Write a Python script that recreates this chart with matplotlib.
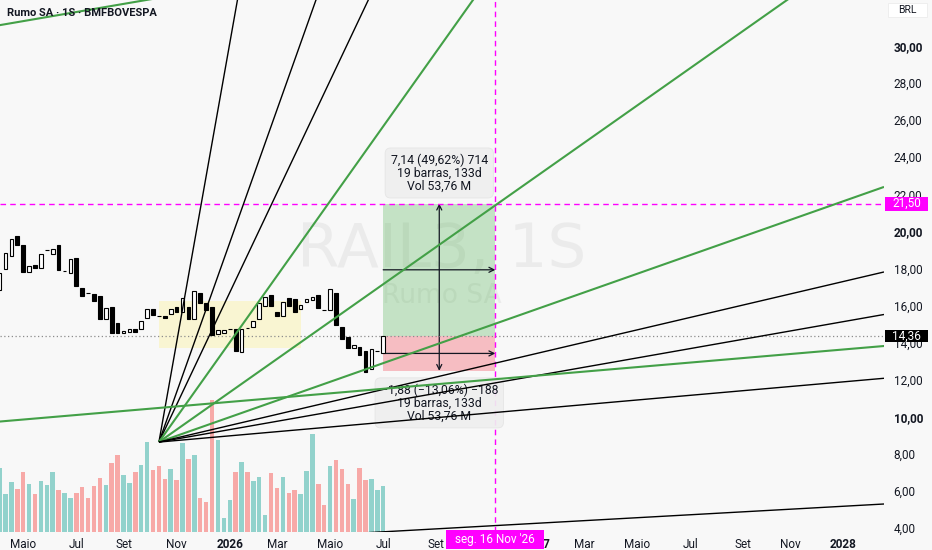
import numpy as np
import pandas as pd
import matplotlib
matplotlib.use('Agg')
import matplotlib.pyplot as plt
import matplotlib.dates as mdates
from matplotlib.patches import Rectangle
from matplotlib.transforms import blended_transform_factory

plt.rcParams['font.family'] = ['Roboto', 'DejaVu Sans']

# weekly bars (bodies only), first bar week of 2025-04-07
first_week = '2025-04-07'
opens = [16.84, 17.97, 18.67, 19.75, 19.27, 17.81, 18.19, 18.03, 18.98, 18.78,
         19.27, 17.84, 17.76, 18.57, 16.95, 16.70, 16.62, 16.52, 15.27, 15.92,
         15.06, 14.52, 14.58, 14.74, 14.74, 15.33, 15.81, 15.46, 15.44, 15.54,
         15.92, 15.65, 15.92, 15.30, 16.68, 16.14, 15.92, 14.47, 14.52, 14.72,
         14.74, 13.50, 14.81, 14.84, 15.27, 15.98, 16.57, 15.65, 15.44, 16.41,
         16.35, 15.81, 16.19, 16.30, 16.57, 15.78, 15.76, 16.68, 14.84, 14.30,
         13.71, 13.76, 13.55, 12.58, 13.53, 13.44]
closes = [17.76, 18.84, 19.59, 19.27, 17.81, 18.13, 18.03, 18.78, 19.02, 19.05,
          17.92, 17.88, 18.50, 17.05, 16.52, 16.66, 16.25, 15.27, 15.87, 14.52,
          14.52, 14.65, 14.74, 14.58, 15.17, 15.81, 15.49, 15.42, 15.33, 15.81,
          15.65, 16.41, 15.27, 16.76, 16.14, 15.76, 14.41, 14.68, 14.68, 14.76,
          13.55, 14.74, 14.77, 15.17, 16.14, 16.46, 15.98, 15.44, 16.19, 15.98,
          15.65, 16.03, 16.35, 16.46, 15.87, 15.74, 16.89, 14.95, 14.20, 13.71,
          13.87, 13.33, 12.42, 13.66, 13.57, 14.36]
volumes = [38.4, 22.8, 30.0, 25.8, 36.0, 28.8, 22.8, 30.6, 28.2, 36.0,
           25.2, 23.4, 20.4, 23.4, 27.0, 20.4, 27.6, 32.4, 28.2, 41.4,
           46.2, 34.2, 29.4, 36.0, 40.2, 54.0, 37.2, 39.6, 31.8, 37.8,
           31.2, 53.4, 43.8, 46.2, 20.4, 18.0, 79.2, 55.2, 8.4, 19.2,
           36.0, 42.0, 36.0, 30.6, 33.0, 10.2, 35.4, 26.4, 33.0, 23.4,
           25.2, 22.8, 36.6, 58.8, 28.8, 16.2, 39.6, 43.2, 37.8, 28.8,
           19.8, 38.4, 31.2, 31.8, 25.2, 27.6]

last_price = 14.36
target_price = 21.50
low_price = 12.48
range_end = '2026-11-16'
range_date_label = "seg. 16 Nov '26"
up_label = ['7,14 (49,62%) 714', '19 barras, 133d', 'Vol 53,76 M']
down_label = ['−1,88 (−13,06%) −188', '19 barras, 133d', 'Vol 53,76 M']

# consolidation box
box_dates = ['2025-10-13', '2026-03-30']
box_prices = [13.73, 16.25]

# gann fan
fan_origin = '2025-10-13'
fan_price = 8.64
fan_unit = 0.224  # BRL per week for the 1x1 line
fan_ratios = [8, 4, 3, 2, 1, 1/2, 1/3, 1/4, 1/8]
fan_colors = ['k', 'k', 'k', 'g', 'g', 'g', 'k', 'k', 'k']

# other trend lines: (date, price) pairs
trend_lines = [
    (('2025-04-08', 31.13), ('2025-09-28', 32.48), 'g'),
    (('2025-04-08', 9.75), ('2028-02-20', 13.82), 'g'),
    (('2026-07-02', 3.79), ('2028-02-20', 5.30), 'k'),
]

tick_dates = ['2025-05-05', '2025-07-07', '2025-09-01', '2025-11-03', '2026-01-05',
              '2026-03-02', '2026-05-04', '2026-07-06', '2026-09-07', '2026-11-02',
              '2027-01-04', '2027-03-01', '2027-05-03', '2027-07-05', '2027-09-06',
              '2027-11-01', '2028-01-03']
tick_labels = ['Maio', 'Jul', 'Set', 'Nov', '2026', 'Mar', 'Maio', 'Jul', 'Set', 'Nov',
               '2027', 'Mar', 'Maio', 'Jul', 'Set', 'Nov', '2028']
price_ticks = list(range(4, 31, 2))

BG = '#f8f8f8'
TXT = '#131722'
GREEN = '#43a047'
MAGENTA = '#ff00ff'
WATER = '#ebebeb'
COLORS = {'k': '#000000', 'g': GREEN}


def dnum(d):
    return mdates.date2num(pd.Timestamp(d))


def br(v):
    return f'{v:.2f}'.replace('.', ',')


x = mdates.date2num(pd.date_range(first_week, periods=len(opens), freq='7D'))
opens = np.array(opens)
closes = np.array(closes)
up = closes >= opens

x_left = dnum('2025-04-07 12:00')
x_right = dnum('2028-02-20')

fig = plt.figure(figsize=(9.32, 5.5), dpi=100, facecolor=BG)
pos = [0, 18 / 550, 884 / 932, 532 / 550]
ax_vol = fig.add_axes(pos)
ax = fig.add_axes(pos, sharex=ax_vol)
ax.patch.set_visible(False)
ax_vol.set_facecolor(BG)

# volume
vol_colors = np.where(up, '#92d2cc', '#f7a9a7')
ax_vol.bar(x, volumes, width=5.3, color=vol_colors, edgecolor='none')
ax_vol.set_ylim(0, max(volumes) / 0.248)
ax_vol.tick_params(left=False, bottom=False, labelleft=False, labelbottom=False)
for s in ax_vol.spines.values():
    s.set_visible(False)

# watermark
ax.text(0.5, 0.53, 'RAIL3, 1S', transform=ax.transAxes, ha='center', va='center',
        fontsize=44, family='DejaVu Sans', color=WATER, zorder=0)
ax.text(0.5, 0.444, 'Rumo SA', transform=ax.transAxes, ha='center', va='center',
        fontsize=19, family='DejaVu Sans', color=WATER, zorder=0)

# consolidation box
bx0, bx1 = dnum(box_dates[0]), dnum(box_dates[1])
ax.add_patch(Rectangle((bx0, box_prices[0]), bx1 - bx0, box_prices[1] - box_prices[0],
                       facecolor=(1.0, 0.92, 0.23, 0.2), edgecolor='none', zorder=1))

# price range tool
r0, r1 = x[-1], dnum(range_end)
rmid = (r0 + r1) / 2
ax.add_patch(Rectangle((r0, last_price), r1 - r0, target_price - last_price,
                       facecolor=(0.30, 0.69, 0.31, 0.3), edgecolor='none', zorder=1))
ax.add_patch(Rectangle((r0, low_price), r1 - r0, last_price - low_price,
                       facecolor=(0.95, 0.21, 0.27, 0.3), edgecolor='none', zorder=1))
arrow = dict(arrowstyle='->', color=TXT, lw=0.9, mutation_scale=9, shrinkA=0, shrinkB=0)
ax.annotate('', xy=(rmid, target_price), xytext=(rmid, last_price), arrowprops=arrow, zorder=2)
ax.annotate('', xy=(rmid, low_price), xytext=(rmid, last_price), arrowprops=arrow, zorder=2)
ax.annotate('', xy=(r1, (target_price + last_price) / 2), xytext=(r0, (target_price + last_price) / 2),
            arrowprops=arrow, zorder=2)
ax.annotate('', xy=(r1, (low_price + last_price) / 2), xytext=(r0, (low_price + last_price) / 2),
            arrowprops=arrow, zorder=2)

label_box = dict(boxstyle='round,pad=0.45', fc='#efefef', ec='#e4e4e4', lw=0.6, alpha=0.92)
ax.annotate('\n'.join(up_label), xy=(rmid, target_price), xytext=(0, 8), textcoords='offset points',
            ha='center', va='bottom', fontsize=8.8, color=TXT, linespacing=0.98,
            bbox=label_box, zorder=3)
ax.annotate('\n'.join(down_label), xy=(rmid, low_price), xytext=(0, -9), textcoords='offset points',
            ha='center', va='top', fontsize=8.8, color=TXT, linespacing=0.98,
            bbox=label_box, zorder=3)

# candles
body_lo = np.minimum(opens, closes)
body_h = np.maximum(np.abs(closes - opens), 0.03)
ax.bar(x, body_h, bottom=body_lo, width=4.4, color=np.where(up, 'white', 'black'),
       edgecolor='black', linewidth=0.8, zorder=3)

# reference lines
ax.axhline(last_price, color='#8c8c8c', lw=0.9, ls=(0, (1, 2)), zorder=2)
ax.axhline(target_price, color=MAGENTA, lw=1, ls=(0, (4, 3)), zorder=2)
ax.axvline(r1, color=MAGENTA, lw=1, ls=(0, (4, 3)), zorder=2)

# gann fan
fx = dnum(fan_origin)
for ratio, c in zip(fan_ratios, fan_colors):
    end_p = fan_price + ratio * fan_unit * (x_right - fx) / 7
    ax.plot([fx, x_right], [fan_price, end_p], color=COLORS[c],
            lw=1.5 if c == 'g' else 1.0, zorder=4, solid_capstyle='butt')

# trend lines extended across the chart
for (d0, p0), (d1, p1), c in trend_lines:
    a, b = dnum(d0), dnum(d1)
    k = (p1 - p0) / (b - a)
    xs = np.array([x_left - 30, x_right + 30])
    ax.plot(xs, p0 + k * (xs - a), color=COLORS[c], lw=1.5 if c == 'g' else 1.0, zorder=4)

ax.set_xlim(x_left, x_right)
ax.set_ylim(3.79, 32.48)

# axes styling
for s in ax.spines.values():
    s.set_visible(False)
ax.yaxis.tick_right()
ax.set_yticks(price_ticks)
ax.set_yticklabels([br(v) for v in price_ticks])
ax.set_xticks([dnum(d) for d in tick_dates])
ax.set_xticklabels(tick_labels)
ax.tick_params(axis='y', length=0, pad=7, labelsize=8.5, labelcolor=TXT)
ax.tick_params(axis='x', length=0, pad=4, labelsize=8.5, labelcolor=TXT)
for lab, v in zip(ax.get_yticklabels(), price_ticks):
    if v % 10 == 0:
        lab.set_fontweight('bold')
for lab in ax.get_xticklabels():
    if lab.get_text().isdigit():
        lab.set_fontweight('bold')

# right-side price labels (boxes span the price scale)
ty = blended_transform_factory(ax.transAxes, ax.transData)
px_price = (32.48 - 3.79) / 532
for price, fc, h in [(last_price, 'black', 12), (target_price, MAGENTA, 14)]:
    ax.add_patch(Rectangle((1.0012, price - h / 2 * px_price), 43 / 884, h * px_price,
                           transform=ty, facecolor=fc, edgecolor='none',
                           clip_on=False, zorder=6))
    ax.text(1.0012 + 21.5 / 884, price, br(price), transform=ty, ha='center', va='center',
            fontsize=8.5, color='white', zorder=7, clip_on=False)

# date label on the time axis
tx = blended_transform_factory(ax.transData, ax.transAxes)
ax.add_patch(Rectangle((r1 - 49 / 0.8429, -17 / 532), 98 / 0.8429, 19 / 532, transform=tx,
                       facecolor=MAGENTA, edgecolor='none', clip_on=False, zorder=6))
ax.text(r1, -7.5 / 532, range_date_label, transform=tx, ha='center', va='center',
        fontsize=8.5, color='white', zorder=7, clip_on=False)

ax.text(0.008, 0.985, 'Rumo SA · 1S · BMFBOVESPA', transform=ax.transAxes,
        ha='left', va='top', fontsize=8, fontweight='bold', color=TXT, zorder=6)
fig.patches.append(Rectangle((888 / 932, 1 - 17 / 550), 39 / 932, 14 / 550,
                             transform=fig.transFigure, facecolor='white',
                             edgecolor='#ececec', lw=0.6, figure=fig))
fig.text(907.5 / 932, 1 - 10 / 550, 'BRL', ha='center', va='center', fontsize=7.5,
         color=TXT)

fig.savefig('out.png', dpi=100, facecolor=BG)
